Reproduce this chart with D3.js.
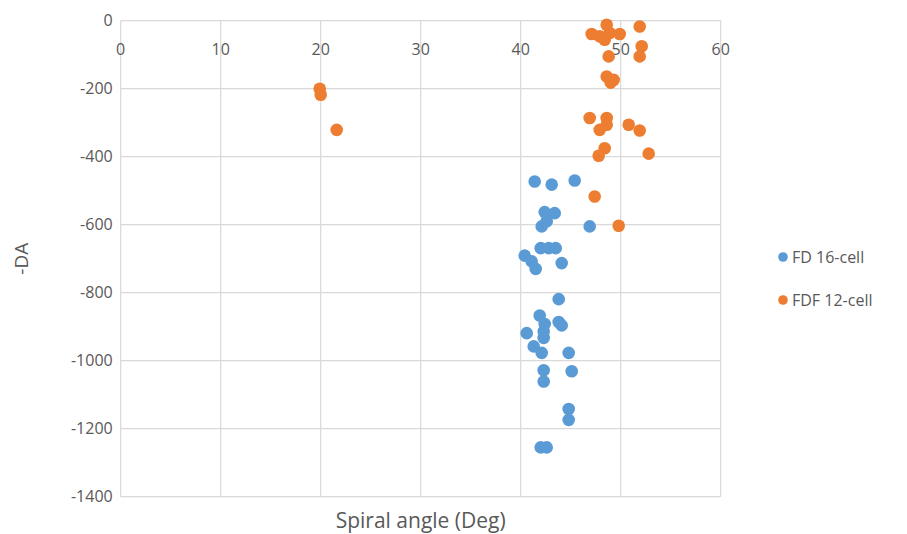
<!DOCTYPE html>
<html>
<head>
<meta charset="utf-8">
<script src="https://cdn.jsdelivr.net/npm/d3@7"></script>
<style>
  html, body { margin: 0; padding: 0; background: #fff; }
  svg { display: block; font-family: "Open Sans", "Liberation Sans", sans-serif; }
</style>
</head>
<body>
<svg id="chart" width="907" height="534"></svg>
<script>
// Spiral angle (deg) vs -DA for two cell layouts
const fd16Angle = [41.4, 43.1, 45.4, 42.4, 43.4, 42.6, 42.1, 46.9, 42.0, 42.8, 43.5,
  40.4, 41.1, 41.5, 44.1, 43.8, 41.9, 42.4, 43.8, 44.1, 42.3, 40.6, 42.3, 41.3,
  42.1, 44.8, 42.3, 45.1, 42.3, 44.8, 44.8, 42.0, 42.6];
const fd16DA = [-473, -482, -470, -563, -566, -590, -605, -605, -669, -669, -669,
  -691, -708, -730, -713, -819, -867, -892, -886, -896, -914, -919, -933, -958,
  -977, -977, -1028, -1031, -1061, -1142, -1174, -1255, -1255];

const fdf12Angle = [48.6, 51.9, 47.1, 47.9, 48.9, 49.9, 48.4, 52.1, 51.9, 48.8,
  48.6, 49.3, 49.0, 46.9, 48.6, 47.9, 48.6, 50.8, 51.9, 48.4, 47.8, 52.8, 47.4,
  49.8, 19.9, 20.0, 21.6];
const fdf12DA = [-12, -17, -39, -46, -36, -39, -56, -75, -105, -105,
  -164, -174, -182, -286, -286, -321, -306, -306, -323, -375, -397, -391, -517,
  -603, -200, -218, -321];

const xTicks = [0, 10, 20, 30, 40, 50, 60];
const yTicks = [0, -200, -400, -600, -800, -1000, -1200, -1400];

const seriesNames = ["FD 16-cell", "FDF 12-cell"];
const seriesColors = ["#5b9bd5", "#ed7d31"];

const series = [
  { name: seriesNames[0], color: seriesColors[0], pts: fd16Angle.map((a, i) => [a, fd16DA[i]]) },
  { name: seriesNames[1], color: seriesColors[1], pts: fdf12Angle.map((a, i) => [a, fdf12DA[i]]) }
];

const svg = d3.select("#chart");
const plot = { left: 120.7, right: 720.7, top: 20.7, bottom: 496.7 };

const x = d3.scaleLinear().domain([0, 60]).range([plot.left, plot.right]);
const y = d3.scaleLinear().domain([0, -1400]).range([plot.top, plot.bottom]);

const textColor = "#595959";
const gridColor = "#d9d9d9";

// gridlines
svg.append("g").selectAll("line.v").data(xTicks).join("line")
  .attr("x1", d => x(d)).attr("x2", d => x(d))
  .attr("y1", plot.top).attr("y2", plot.bottom)
  .attr("stroke", gridColor).attr("stroke-width", 1.2);
svg.append("g").selectAll("line.h").data(yTicks).join("line")
  .attr("x1", plot.left).attr("x2", plot.right)
  .attr("y1", d => y(d)).attr("y2", d => y(d))
  .attr("stroke", gridColor).attr("stroke-width", 1.2);

// y axis labels
svg.append("g").selectAll("text").data(yTicks).join("text")
  .attr("x", plot.left - 8).attr("y", d => y(d))
  .attr("dy", "0.35em").attr("text-anchor", "end")
  .attr("font-size", 16).attr("fill", textColor)
  .text(d => String(d));

// x axis labels (placed under the top line where the axis crosses y=0)
svg.append("g").selectAll("text").data(xTicks).join("text")
  .attr("x", d => x(d)).attr("y", plot.top + 29)
  .attr("dy", "0.35em").attr("text-anchor", "middle")
  .attr("font-size", 16).attr("fill", textColor)
  .text(d => d);

// axis titles
svg.append("text")
  .attr("x", x(30)).attr("y", 528)
  .attr("text-anchor", "middle").attr("font-size", 21).attr("fill", textColor)
  .text("Spiral angle (Deg)");
svg.append("text")
  .attr("transform", `translate(21,${y(-700)}) rotate(-90)`)
  .attr("text-anchor", "middle").attr("dy", "0.35em")
  .attr("font-size", 19).attr("fill", textColor)
  .text("-DA");

// points
series.forEach(s => {
  svg.append("g").selectAll("circle").data(s.pts).join("circle")
    .attr("cx", d => x(d[0])).attr("cy", d => y(d[1]))
    .attr("r", 6.3).attr("fill", s.color);
});

// legend
const legend = svg.append("g");
series.forEach((s, i) => {
  const ly = 257 + i * 43;
  legend.append("circle").attr("cx", 783).attr("cy", ly).attr("r", 4.8).attr("fill", s.color);
  legend.append("text").attr("x", 792).attr("y", ly).attr("dy", "0.35em")
    .attr("font-size", 16).attr("fill", textColor).text(s.name);
});
</script>
</body>
</html>
